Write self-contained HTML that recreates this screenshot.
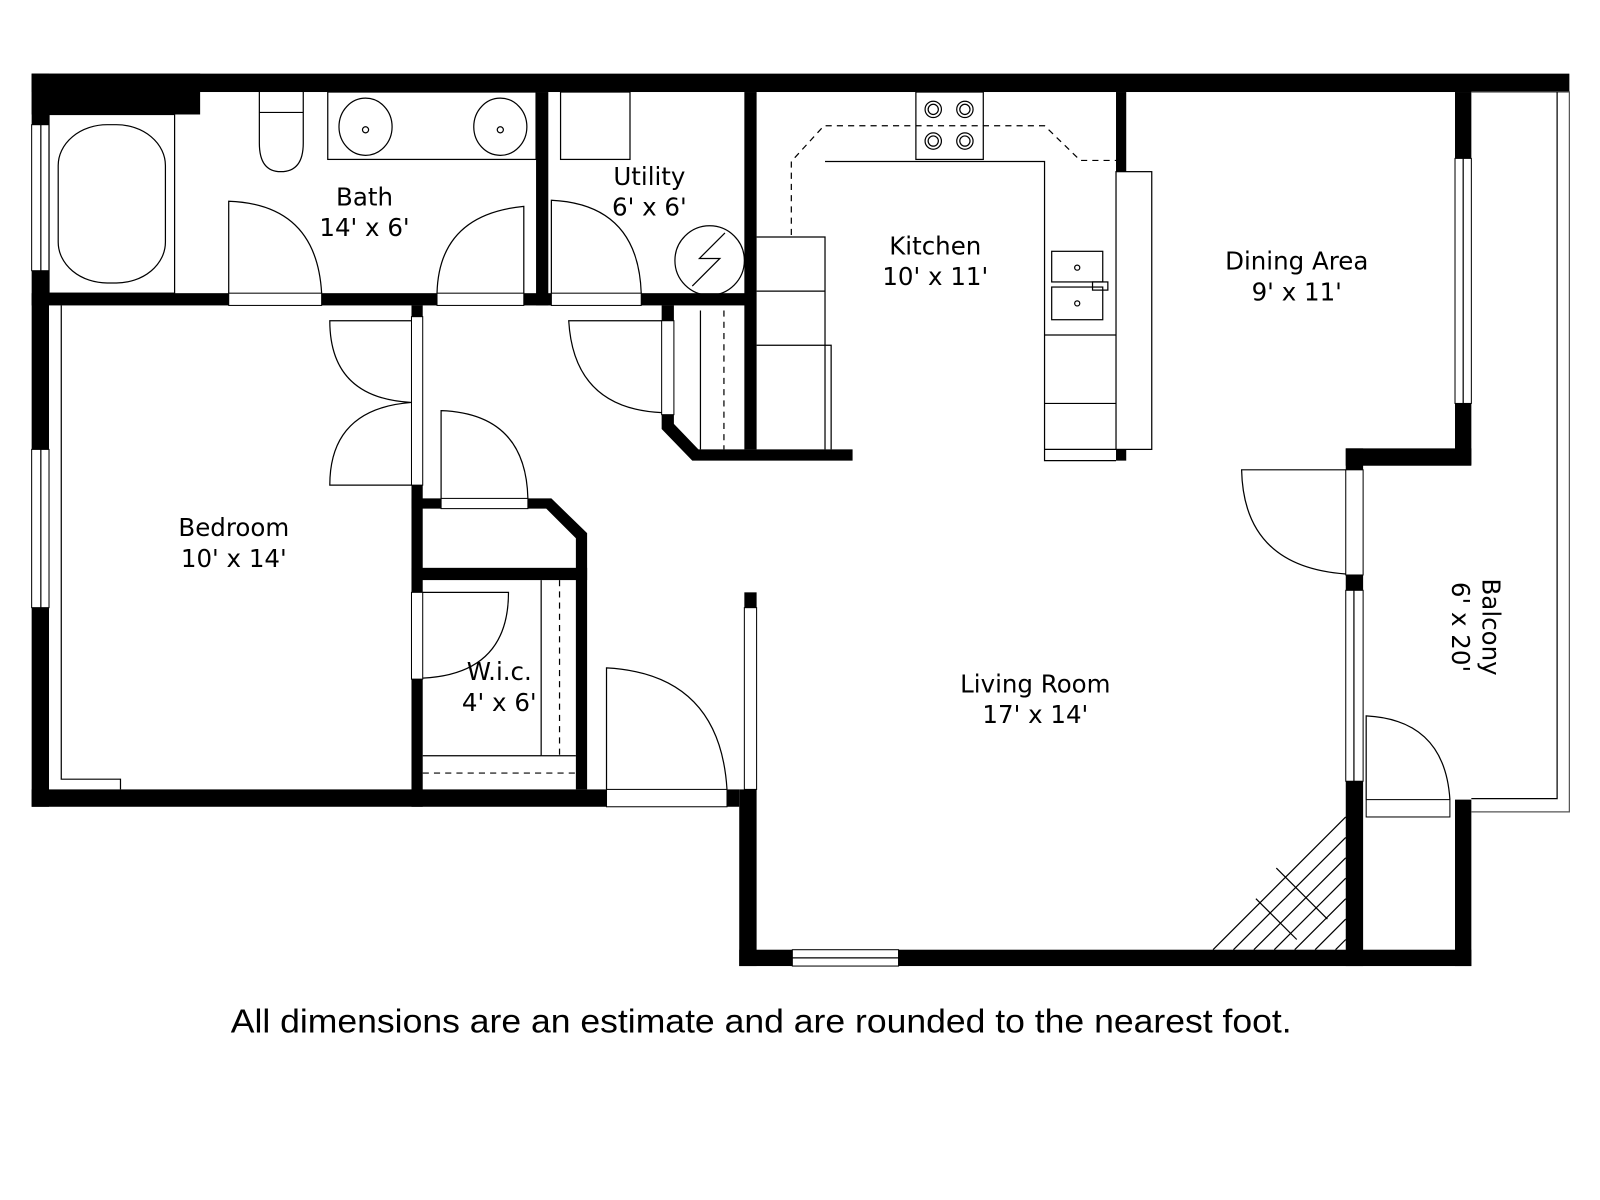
<!DOCTYPE html>
<html><head><meta charset="utf-8"><style>
html,body{margin:0;padding:0;background:#fff;}
svg{display:block;}
text{font-family:"DejaVu Sans","Liberation Sans",sans-serif;font-size:24px;fill:#000;}
</style></head><body>
<svg width="1600" height="1200" viewBox="0 0 1567 1175" xmlns="http://www.w3.org/2000/svg">
<g fill="#000">
<rect x="31" y="72" width="1506" height="18"/>
<rect x="31" y="72" width="165" height="40"/>
<rect x="31" y="72" width="17" height="718"/>
<rect x="31" y="287" width="709" height="12"/>
<rect x="525" y="90" width="12" height="209"/>
<rect x="729" y="90" width="12" height="350"/>
<rect x="1093" y="90" width="10" height="78"/>
<rect x="1093" y="440" width="10" height="11"/>
<rect x="1425" y="90" width="16" height="365"/>
<rect x="1318" y="439" width="123" height="17"/>
<rect x="1318" y="439" width="17" height="507"/>
<rect x="724" y="930" width="717" height="16"/>
<rect x="1425" y="783" width="16" height="163"/>
<rect x="724" y="773" width="17" height="173"/>
<rect x="31" y="773" width="693" height="17"/>
<rect x="403" y="299" width="11" height="491"/>
<polygon points="403,488 540,488 575,522 575,773 564,773 564,527 535,498 403,498"/>
<rect x="403" y="556" width="172" height="12"/>
<polygon points="648,299 660,299 660,415 684,440 835,440 835,451 678,451 648,420"/>
<rect x="729" y="580" width="12" height="15"/>
</g>
<g fill="#fff" stroke="#000" stroke-width="1">
<rect x="31" y="122" width="17" height="143"/>
<rect x="31" y="440" width="17" height="155"/>
<rect x="224" y="287" width="91" height="12"/>
<rect x="428" y="287" width="85" height="12"/>
<rect x="540" y="287" width="88" height="12"/>
<rect x="1425" y="155" width="16" height="240"/>
<rect x="1318" y="460" width="17" height="103"/>
<rect x="1318" y="578" width="17" height="187"/>
<rect x="776" y="930" width="104" height="16"/>
<rect x="594" y="773" width="118" height="17"/>
<rect x="403" y="310" width="11" height="165"/>
<rect x="403" y="580" width="11" height="85"/>
<rect x="432" y="488" width="85" height="10"/>
<rect x="1338" y="783" width="82" height="17"/>
<rect x="648" y="314" width="12" height="92"/>
<rect x="729" y="595" width="12" height="178"/>
</g>
<g fill="none" stroke="#000" stroke-width="1.2">
<line x1="40" y1="122" x2="40" y2="265"/><line x1="40" y1="440" x2="40" y2="595"/>
<line x1="1433" y1="155" x2="1433" y2="395"/><line x1="1326" y1="578" x2="1326" y2="765"/>
<line x1="776" y1="938" x2="880" y2="938"/>
<polyline points="1441,90 1537,90 1537,795 1441,795" stroke="#555"/>
<polyline points="1525,90 1525,782 1441,782"/>
<rect x="48" y="112" width="123" height="175"/>
<rect x="57" y="122" width="105" height="155" rx="48" ry="40"/>
<path d="M254,90 V140 Q254,168 275,168 Q297,168 297,140 V90"/>
<line x1="254" y1="110" x2="297" y2="110"/>
<rect x="321" y="90" width="204" height="66"/>
<ellipse cx="358" cy="124" rx="26" ry="28"/><ellipse cx="490" cy="124" rx="26" ry="28"/>
<circle cx="358" cy="127" r="3"/><circle cx="490" cy="127" r="3"/>
<path d="M224,287 V197 Q310,200 315,287"/>
<path d="M513,287 V202 Q430,210 428,287"/>
<path d="M540,287 V196 Q625,200 628,287"/>
<path d="M403,314 H323 Q323,390 403,394"/>
<path d="M403,394 Q323,400 323,475 H403"/>
<path d="M432,488 V402 Q515,405 517,488"/>
<path d="M414,580 H498 Q498,660 414,664"/>
<path d="M594,773 V654 Q705,660 712,773"/>
<path d="M648,314 H557 Q562,400 648,404"/>
<path d="M1318,460 H1216 Q1218,555 1318,562"/>
<path d="M1338,783 V701 Q1415,705 1420,783"/>
<rect x="549" y="90" width="68" height="66"/>
<circle cx="695" cy="255" r="34"/>
<polyline points="678,280 705,253 685,253 710,228"/>
<line x1="686" y1="304" x2="686" y2="440"/>
<line x1="709" y1="304" x2="709" y2="440" stroke-dasharray="6,5"/>
<line x1="530" y1="568" x2="530" y2="740"/><line x1="530" y1="740" x2="564" y2="740"/>
<line x1="548" y1="568" x2="548" y2="740" stroke-dasharray="6,5"/>
<line x1="414" y1="740" x2="530" y2="740"/>
<line x1="414" y1="757" x2="564" y2="757" stroke-dasharray="6,5"/>
<polyline points="60,299 60,763 118,763 118,773"/>
<rect x="897" y="90" width="66" height="66"/>
<circle cx="914" cy="107" r="8"/><circle cx="945" cy="107" r="8"/><circle cx="914" cy="138" r="8"/><circle cx="945" cy="138" r="8"/>
<circle cx="914" cy="107" r="5"/><circle cx="945" cy="107" r="5"/><circle cx="914" cy="138" r="5"/><circle cx="945" cy="138" r="5"/>
<polyline points="775,230 775,158 807,123 1023,123 1058,157 1093,157" stroke-dasharray="6,5"/>
<polyline points="741,232 808,232 808,440"/>
<polyline points="808,158 1023,158 1023,451 1093,451"/>
<line x1="741" y1="285" x2="808" y2="285"/>
<polyline points="741,338 814,338 814,440"/>
<rect x="1093" y="168" width="35" height="272"/>
<rect x="1030" y="246" width="50" height="30"/><rect x="1030" y="281" width="50" height="32"/>
<rect x="1070" y="276" width="15" height="8"/>
<circle cx="1055" cy="262" r="2.5"/><circle cx="1055" cy="297" r="2.5"/>
<line x1="1023" y1="328" x2="1093" y2="328"/><line x1="1023" y1="395" x2="1093" y2="395"/>
<line x1="1023" y1="440" x2="1093" y2="440"/>
<line x1="1188" y1="930" x2="1318" y2="800"/>
<line x1="1208" y1="930" x2="1318" y2="820"/>
<line x1="1228" y1="930" x2="1318" y2="840"/>
<line x1="1248" y1="930" x2="1318" y2="860"/>
<line x1="1268" y1="930" x2="1318" y2="880"/>
<line x1="1288" y1="930" x2="1318" y2="900"/>
<line x1="1308" y1="930" x2="1318" y2="920"/>
<line x1="1250" y1="850" x2="1300" y2="900"/>
<line x1="1230" y1="880" x2="1270" y2="920"/>
</g>
<g text-anchor="middle">
<text x="357" y="201">Bath</text><text x="357" y="231">14' x 6'</text>
<text x="636" y="181">Utility</text><text x="636" y="211">6' x 6'</text>
<text x="916" y="249">Kitchen</text><text x="916" y="279">10' x 11'</text>
<text x="1270" y="264">Dining Area</text><text x="1270" y="294">9' x 11'</text>
<text x="229" y="525">Bedroom</text><text x="229" y="555">10' x 14'</text>
<text x="489" y="666">W.i.c.</text><text x="489" y="696">4' x 6'</text>
<text x="1014" y="678">Living Room</text><text x="1014" y="708">17' x 14'</text>
<text transform="translate(1452,614) rotate(90)" x="0" y="0">Balcony</text>
<text transform="translate(1422,614) rotate(90)" x="0" y="0">6' x 20'</text>
</g>
<text x="226" y="1011" textLength="1039" lengthAdjust="spacingAndGlyphs" style="font-family:'Liberation Sans',sans-serif;font-size:33px">All dimensions are an estimate and are rounded to the nearest foot.</text>
</svg>
</body></html>
